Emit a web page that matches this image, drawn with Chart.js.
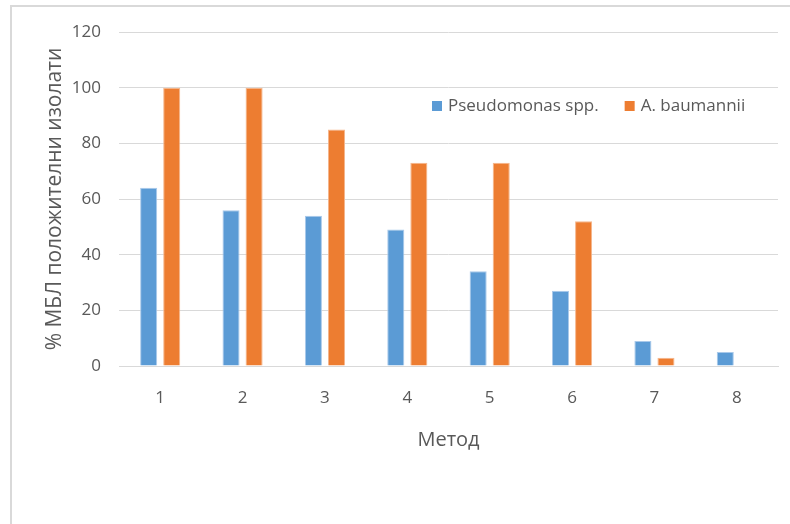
<!DOCTYPE html>
<html>
<head>
<meta charset="utf-8">
<script src="https://cdn.jsdelivr.net/npm/chart.js@4/dist/chart.umd.min.js"></script>
<style>
  html, body { margin: 0; padding: 0; background: #ffffff; }
  #wrap { width: 790px; height: 524px; position: relative; }
</style>
</head>
<body>
<div id="wrap"><canvas id="c" width="790" height="524"></canvas></div>
<script>
// Methods tested
const categories = ['1', '2', '3', '4', '5', '6', '7', '8'];
// % MBL-positive isolates per method
const pseudomonas = [64, 56, 54, 49, 34, 27, 9, 5];
const baumannii = [100, 100, 85, 73, 73, 52, 3, 0];
const seriesNames = ['Pseudomonas spp.', 'A. baumannii'];
const seriesColors = ['#5B9BD5', '#ED7D31'];

const FONT = '"Open Sans", "Liberation Sans", sans-serif';
const TEXT = '#595959';

// Outer frame of the chart object (top and left edges visible)
const framePlugin = {
  id: 'frame',
  beforeDraw(chart) {
    const ctx = chart.ctx;
    ctx.save();
    ctx.strokeStyle = '#d9d9d9';
    ctx.lineWidth = 2;
    ctx.beginPath();
    ctx.moveTo(11, 524);
    ctx.lineTo(11, 6);
    ctx.lineTo(790, 6);
    ctx.stroke();
    ctx.restore();
  }
};

// Legend drawn inside the plot area, upper right
const innerLegend = {
  id: 'innerLegend',
  afterDraw(chart) {
    const ctx = chart.ctx;
    ctx.save();
    ctx.font = '17px ' + FONT;
    ctx.textBaseline = 'middle';
    let x = 432;
    const y = 106;
    chart.data.datasets.forEach((ds, i) => {
      ctx.fillStyle = ds.backgroundColor;
      ctx.fillRect(x, y - 5, 10, 10);
      ctx.fillStyle = TEXT;
      ctx.fillText(ds.label, x + 16, y);
      x += 16 + ctx.measureText(ds.label).width + 26;
    });
    ctx.restore();
  }
};

new Chart(document.getElementById('c'), {
  type: 'bar',
  data: {
    labels: categories,
    datasets: [
      { label: seriesNames[0], data: pseudomonas, backgroundColor: seriesColors[0],
        borderColor: '#a9c9ea', borderWidth: 1 },
      { label: seriesNames[1], data: baumannii, backgroundColor: seriesColors[1],
        borderColor: '#f5b68c', borderWidth: 1 }
    ]
  },
  options: {
    responsive: false,
    animation: false,
    devicePixelRatio: 1,
    layout: { padding: { left: 0, right: 12, top: 32, bottom: 72 } },
    datasets: { bar: { categoryPercentage: 0.56, barPercentage: 0.74 } },
    plugins: {
      legend: { display: false },
      tooltip: { enabled: false }
    },
    scales: {
      x: {
        grid: { display: false },
        border: { display: true, color: '#d9d9d9', width: 1 },
        ticks: { color: TEXT, font: { family: FONT, size: 17 }, padding: 14 },
        title: { display: true, text: 'Метод', color: TEXT, font: { family: FONT, size: 20 }, padding: { top: 0, bottom: 0 } },
        afterFit(s) { s.height = 86; }
      },
      y: {
        min: 0, max: 120,
        ticks: { stepSize: 20, color: TEXT, font: { family: FONT, size: 17 }, padding: 18 },
        grid: { color: '#d9d9d9', lineWidth: 1, drawTicks: false },
        border: { display: false },
        title: { display: true, text: '% МБЛ положителни изолати', color: TEXT,
                 font: { family: FONT, size: 21 }, padding: { top: 42, bottom: 0 } },
        afterFit(s) { s.width = 119; }
      }
    }
  },
  plugins: [framePlugin, innerLegend]
});
</script>
</body>
</html>
